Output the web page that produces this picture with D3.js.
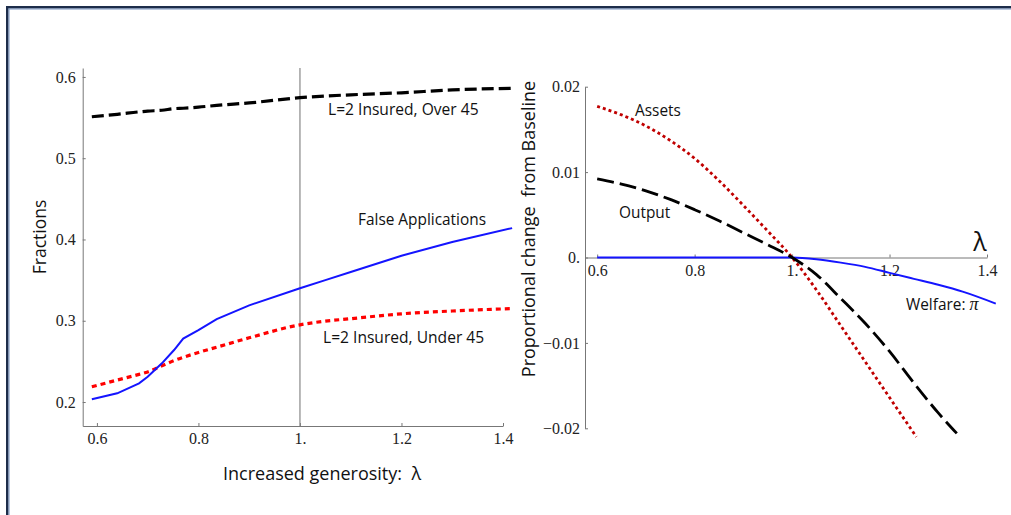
<!DOCTYPE html>
<html>
<head>
<meta charset="utf-8">
<script src="https://cdn.jsdelivr.net/npm/d3@7"></script>
<style>
  body { margin: 0; background: #fff; }
  .axis path, .axis line { stroke: #777; }
  .lbl { font-family: "Open Sans", sans-serif; fill: #111; }
</style>
</head>
<body>
<div id="chartBox"></div>
<script>
(function () {
  'use strict';

  // left panel: fractions vs generosity
  var lamLeft = [0.59, 0.64, 0.683, 0.70, 0.728, 0.752, 0.77, 0.80, 0.836, 0.90, 1.0, 1.05, 1.1, 1.2, 1.3, 1.418];
  var over45 = [0.551, 0.554, 0.557, 0.558, 0.559, 0.561, 0.5615, 0.5628, 0.565, 0.568, 0.5745, 0.5765, 0.578, 0.5805, 0.584, 0.586];
  var falseApps = [0.2033, 0.2107, 0.223, 0.231, 0.2476, 0.264, 0.278, 0.2886, 0.302, 0.319, 0.340, 0.350, 0.360, 0.380, 0.397, 0.414];
  var under45 = [0.2188, 0.227, 0.234, 0.237, 0.2445, 0.251, 0.255, 0.261, 0.2675, 0.279, 0.295, 0.2995, 0.3025, 0.3085, 0.312, 0.315];
  var leftXTicks = [0.6, 0.8, 1.0, 1.2, 1.4];
  var leftXLabels = ["0.6", "0.8", "1.", "1.2", "1.4"];
  var leftYTicks = [0.2, 0.3, 0.4, 0.5, 0.6];
  var leftYLabels = ["0.2", "0.3", "0.4", "0.5", "0.6"];

  // right panel: proportional change from baseline
  var lamAssets = [0.6, 0.65, 0.7, 0.75, 0.8, 0.85, 0.9, 0.95, 1.0, 1.05, 1.1, 1.15, 1.2, 1.255];
  var assets = [0.0177, 0.0167, 0.0154, 0.0137, 0.0116, 0.0090, 0.0061, 0.0031, 0.0, -0.0038, -0.0080, -0.0122, -0.0164, -0.0210];
  var lamOutput = [0.6, 0.65, 0.7, 0.75, 0.8, 0.85, 0.9, 0.95, 1.0, 1.05, 1.1, 1.15, 1.2, 1.25, 1.3, 1.338];
  var output = [0.0092, 0.0086, 0.0078, 0.0068, 0.0056, 0.0043, 0.0029, 0.0015, 0.0, -0.0020, -0.0048, -0.0077, -0.0110, -0.0147, -0.0182, -0.0206];
  var lamWelfare = [0.6, 0.7, 0.8, 0.9, 1.0, 1.05, 1.1, 1.15, 1.2, 1.25, 1.3, 1.35, 1.418];
  var welfare = [0.0, 0.0, 0.0, 0.0, 0.0, -0.0002, -0.0006, -0.0011, -0.0018, -0.0025, -0.0032, -0.0040, -0.0054];
  var rightXTicks = [0.6, 0.8, 1.0, 1.2, 1.4];
  var rightXLabels = ["0.6", "0.8", "1.", "1.2", "1.4"];
  var rightYTicks = [-0.02, -0.01, 0, 0.01, 0.02];
  var rightYLabels = ["\u22120.02", "\u22120.01", "0.", "0.01", "0.02"];

  var outerWidth = 1011,
      outerHeight = 515;

  var svg = d3.select("#chartBox").append("svg")
    .attr("width", outerWidth)
    .attr("height", outerHeight);

  svg.append("rect")
    .attr("width", outerWidth)
    .attr("height", outerHeight)
    .attr("fill", "#fff");

  // window frame, top and left only
  svg.append("rect").attr("x", 6).attr("y", 6).attr("width", outerWidth - 6).attr("height", 2.5).attr("fill", "#1d2d4a");
  svg.append("rect").attr("x", 6).attr("y", 6).attr("width", 2.5).attr("height", outerHeight - 6).attr("fill", "#1d2d4a");
  svg.append("rect").attr("x", 8.5).attr("y", 8.5).attr("width", outerWidth - 8.5).attr("height", 1).attr("fill", "#7692bd");
  svg.append("rect").attr("x", 8.5).attr("y", 8.5).attr("width", 1).attr("height", outerHeight - 8.5).attr("fill", "#7692bd");

  function zip(xs, ys) {
    return xs.map(function (x, i) { return [x, ys[i]]; });
  }

  function styleTicks(g) {
    g.attr("font-family", null).attr("font-size", null);
    g.selectAll("text")
      .style("font-family", "'Liberation Serif', 'Times New Roman', 'DejaVu Serif', serif")
      .style("font-size", "16px")
      .style("fill", "#222");
  }

  ////////// Left chart //////////
  var x0 = d3.scaleLinear().domain([0.572, 1.4]).range([82.7, 503]);
  var y0 = d3.scaleLinear().domain([0.1705, 0.611]).range([426, 68]);

  var left = svg.append("g").attr("class", "leftchart");

  left.append("g")
    .attr("class", "axis")
    .attr("transform", "translate(0," + y0.range()[0] + ")")
    .call(d3.axisBottom(x0).tickValues(leftXTicks)
      .tickFormat(function (d, i) { return leftXLabels[i]; })
      .tickSizeInner(-3).tickSizeOuter(0).tickPadding(7))
    .call(styleTicks);

  left.append("g")
    .attr("class", "axis")
    .attr("transform", "translate(" + x0.range()[0] + ",0)")
    .call(d3.axisLeft(y0).tickValues(leftYTicks)
      .tickFormat(function (d, i) { return leftYLabels[i]; })
      .tickSizeInner(-3).tickSizeOuter(0).tickPadding(7))
    .call(styleTicks);

  // baseline marker at lambda = 1
  left.append("line")
    .attr("x1", x0(1)).attr("x2", x0(1))
    .attr("y1", y0.range()[1]).attr("y2", y0.range()[0])
    .attr("stroke", "#888")
    .attr("stroke-width", 1.2);

  var line0 = d3.line()
    .x(function (d) { return x0(d[0]); })
    .y(function (d) { return y0(d[1]); })
    .curve(d3.curveMonotoneX);

  var line0Linear = d3.line()
    .x(function (d) { return x0(d[0]); })
    .y(function (d) { return y0(d[1]); });

  left.append("path")
    .attr("d", line0(zip(lamLeft, under45)))
    .attr("fill", "none").attr("stroke", "#ff0000")
    .attr("stroke-width", 3.2).attr("stroke-dasharray", "5,4");

  left.append("path")
    .attr("d", line0Linear(zip(lamLeft, falseApps)))
    .attr("fill", "none").attr("stroke", "#1414ff")
    .attr("stroke-width", 2);

  left.append("path")
    .attr("d", line0(zip(lamLeft, over45)))
    .attr("fill", "none").attr("stroke", "#000")
    .attr("stroke-width", 3.2).attr("stroke-dasharray", "12,5");

  left.append("text").attr("class", "lbl")
    .attr("x", 328).attr("y", 110).attr("dy", "0.35em")
    .style("font-size", "15.6px")
    .text("L=2 Insured, Over 45");

  left.append("text").attr("class", "lbl")
    .attr("x", 358).attr("y", 220).attr("dy", "0.35em")
    .style("font-size", "15.4px")
    .text("False Applications");

  left.append("text").attr("class", "lbl")
    .attr("x", 323).attr("y", 338).attr("dy", "0.35em")
    .style("font-size", "15.6px")
    .text("L=2 Insured, Under 45");

  left.append("text").attr("class", "lbl")
    .attr("x", 223).attr("y", 474).attr("dy", "0.35em")
    .style("font-size", "18px")
    .style("white-space", "pre")
    .text("Increased generosity:  \u03bb");

  left.append("text").attr("class", "lbl")
    .attr("transform", "translate(40,237) rotate(-90)")
    .attr("text-anchor", "middle").attr("dy", "0.35em")
    .style("font-size", "17.5px")
    .text("Fractions");

  ////////// Right chart //////////
  var x1 = d3.scaleLinear().domain([0.575, 1.4]).range([585, 987]);
  var y1 = d3.scaleLinear().domain([-0.02, 0.02]).range([428.3, 86.7]);

  var right = svg.append("g").attr("class", "rightchart");

  right.append("g")
    .attr("class", "axis")
    .attr("transform", "translate(0," + y1(0) + ")")
    .call(d3.axisBottom(x1).tickValues(rightXTicks)
      .tickFormat(function (d, i) { return rightXLabels[i]; })
      .tickSizeInner(-3).tickSizeOuter(0).tickPadding(7))
    .call(styleTicks);

  right.append("g")
    .attr("class", "axis")
    .attr("transform", "translate(" + x1.range()[0] + ",0)")
    .call(d3.axisLeft(y1).tickValues(rightYTicks)
      .tickFormat(function (d, i) { return rightYLabels[i]; })
      .tickSizeInner(-3).tickSizeOuter(0).tickPadding(5))
    .call(styleTicks);

  var line1 = d3.line()
    .x(function (d) { return x1(d[0]); })
    .y(function (d) { return y1(d[1]); })
    .curve(d3.curveMonotoneX);

  right.append("path")
    .attr("d", line1(zip(lamWelfare, welfare)))
    .attr("fill", "none").attr("stroke", "#1414ff")
    .attr("stroke-width", 2);

  right.append("path")
    .attr("d", line1(zip(lamAssets, assets)))
    .attr("fill", "none").attr("stroke", "#c00000")
    .attr("stroke-width", 2.8).attr("stroke-dasharray", "3,3");

  right.append("path")
    .attr("d", line1(zip(lamOutput, output)))
    .attr("fill", "none").attr("stroke", "#000")
    .attr("stroke-width", 2.8).attr("stroke-dasharray", "17,6");

  right.append("text").attr("class", "lbl")
    .attr("x", 635).attr("y", 111).attr("dy", "0.35em")
    .style("font-size", "15.4px")
    .text("Assets");

  right.append("text").attr("class", "lbl")
    .attr("x", 619).attr("y", 213).attr("dy", "0.35em")
    .style("font-size", "15.4px")
    .text("Output");

  var welf = right.append("text").attr("class", "lbl")
    .attr("x", 906).attr("y", 305).attr("dy", "0.35em")
    .style("font-size", "15.4px")
    .style("white-space", "pre")
    .text("Welfare: ");
  welf.append("tspan")
    .style("font-family", "'Liberation Serif', serif")
    .style("font-style", "italic")
    .style("font-size", "18px")
    .text("\u03c0");

  right.append("text").attr("class", "lbl")
    .attr("x", 980).attr("y", 242).attr("dy", "0.35em")
    .attr("text-anchor", "middle")
    .style("font-size", "25px")
    .text("\u03bb");

  right.append("text").attr("class", "lbl")
    .attr("transform", "translate(529,229) rotate(-90)")
    .attr("text-anchor", "middle").attr("dy", "0.35em")
    .style("font-size", "18px")
    .style("white-space", "pre")
    .text("Proportional change  from Baseline");

})();
</script>
</body>
</html>
